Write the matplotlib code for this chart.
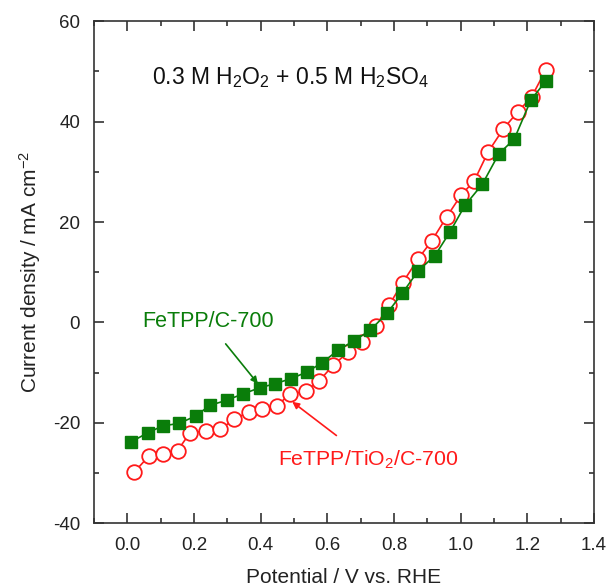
import matplotlib
matplotlib.use('Agg')
import matplotlib.pyplot as plt
from matplotlib.ticker import MultipleLocator

plt.rcParams['font.family'] = ['Liberation Sans', 'DejaVu Sans']
plt.rcParams['mathtext.fontset'] = 'custom'
plt.rcParams['mathtext.rm'] = 'Liberation Sans'
plt.rcParams['mathtext.it'] = 'Liberation Sans'
plt.rcParams['axes.unicode_minus'] = False

# FeTPP/C-700 (filled squares)
pot_c = [0.011, 0.061, 0.106, 0.156, 0.206, 0.248, 0.298, 0.348, 0.398, 0.443,
         0.491, 0.538, 0.585, 0.633, 0.681, 0.728, 0.779, 0.825, 0.873, 0.923,
         0.968, 1.013, 1.065, 1.115, 1.161, 1.211, 1.256]
cur_c = [-23.8, -22.0, -20.6, -20.1, -18.6, -16.5, -15.5, -14.2, -13.0, -12.2,
         -11.2, -9.9, -8.0, -5.5, -3.6, -1.6, 1.8, 5.8, 10.3, 13.3,
         18.0, 23.3, 27.5, 33.6, 36.5, 44.3, 48.1]

# FeTPP/TiO2/C-700 (open circles)
pot_t = [0.021, 0.065, 0.106, 0.151, 0.188, 0.235, 0.278, 0.321, 0.365, 0.405,
         0.448, 0.488, 0.535, 0.575, 0.618, 0.663, 0.705, 0.746, 0.786, 0.826,
         0.873, 0.913, 0.958, 1.001, 1.041, 1.083, 1.128, 1.171, 1.213, 1.255]
cur_t = [-29.8, -26.6, -26.1, -25.5, -22.0, -21.6, -21.3, -19.3, -17.8, -17.3,
         -16.6, -14.3, -13.7, -11.7, -8.5, -5.9, -3.8, -0.7, 3.5, 7.9,
         12.7, 16.2, 21.0, 25.3, 28.2, 34.0, 38.5, 41.9, 44.9, 50.2]

green = '#0a7d0a'
red = '#ff1a1a'

fig = plt.figure(figsize=(6.06, 5.88), dpi=100)
ax = fig.add_axes([0.155, 0.110, 0.825, 0.854])

ax.plot(pot_t, cur_t, color=red, lw=1.2, marker='o', ms=10.5,
        mfc='white', mec=red, mew=1.3, zorder=3)
ax.plot(pot_c, cur_c, color=green, lw=1.2, marker='s', ms=8.5,
        mfc=green, mec=green, zorder=4)

ax.set_xlim(-0.1, 1.4)
ax.set_ylim(-40, 60)
ax.xaxis.set_major_locator(MultipleLocator(0.2))
ax.xaxis.set_minor_locator(MultipleLocator(0.1))
ax.yaxis.set_major_locator(MultipleLocator(20))
ax.yaxis.set_minor_locator(MultipleLocator(10))
ax.xaxis.set_major_formatter(plt.FormatStrFormatter('%.1f'))

ax.tick_params(which='both', direction='in', top=True, right=True,
               width=1.1, labelsize=13.5, colors='#222222')
ax.tick_params(which='major', length=7)
ax.tick_params(axis='x', which='major', pad=10)
ax.tick_params(axis='y', which='major', pad=10)
ax.tick_params(which='minor', length=3.5)
for sp in ax.spines.values():
    sp.set_linewidth(1.2)
    sp.set_color('#333333')

ax.set_xlabel('Potential / V vs. RHE', fontsize=15, labelpad=10, color='#222222')
ax.set_ylabel('Current density / mA cm$^{-2}$', fontsize=15, labelpad=7,
              color='#222222')

ax.text(0.075, 48.8, '0.3 M H$_2$O$_2$ + 0.5 M H$_2$SO$_4$', fontsize=16.5,
        color='#111111', va='center', ha='left')

ax.annotate('FeTPP/C-700', xy=(0.392, -12.2), xytext=(0.242, 0.1),
            fontsize=15.5, color=green, ha='center', va='center',
            arrowprops=dict(arrowstyle='-|>', color=green, lw=1.2,
                            mutation_scale=10, shrinkA=8, shrinkB=0))
ax.annotate('FeTPP/TiO$_2$/C-700', xy=(0.495, -15.8), xytext=(0.722, -27.3),
            fontsize=15.3, color=red, ha='center', va='center',
            arrowprops=dict(arrowstyle='-|>', color=red, lw=1.2,
                            mutation_scale=10, shrinkA=12, shrinkB=0))

fig.savefig('out.png', dpi=100)
